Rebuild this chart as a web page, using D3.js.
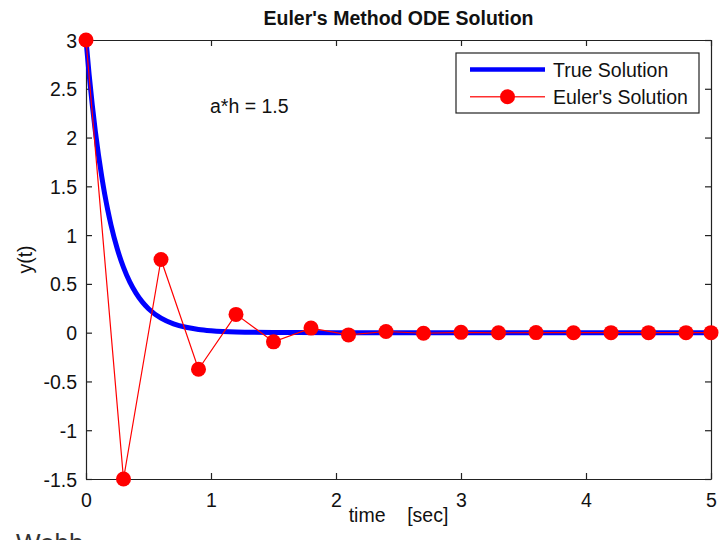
<!DOCTYPE html>
<html>
<head>
<meta charset="utf-8">
<script src="https://cdn.jsdelivr.net/npm/d3@7"></script>
<style>
  html, body { margin: 0; padding: 0; background: #fff; }
  svg { display: block; font-family: Arial, "Liberation Sans", sans-serif; }
</style>
</head>
<body>
<svg id="chart" width="719" height="540"></svg>
<script>
// ---- data ----
const eulerT = [0, 0.3, 0.6, 0.9, 1.2, 1.5, 1.8, 2.1, 2.4, 2.7, 3.0, 3.3, 3.6, 3.9, 4.2, 4.5, 4.8, 5.0];
const eulerY = [3, -1.5, 0.75, -0.375, 0.1875, -0.094, 0.047, -0.023, 0.012, -0.006, 0.003, -0.0015, 0.0007, -0.0004, 0.0002, -0.0001, 0.00005, 0];
const trueT = [0, 0.025, 0.05, 0.075, 0.1, 0.125, 0.15, 0.175, 0.2, 0.25, 0.3, 0.35, 0.4, 0.45, 0.5, 0.6, 0.7, 0.8, 0.9, 1.0, 1.2, 1.5, 2.0, 3.0, 4.0, 5.0];
const trueY = [3, 2.647, 2.336, 2.061, 1.820, 1.606, 1.417, 1.251, 1.104, 0.860, 0.669, 0.521, 0.406, 0.316, 0.246, 0.149, 0.091, 0.055, 0.033, 0.020, 0.007, 0.002, 0.0001, 0, 0, 0];
const xTicks = [0, 1, 2, 3, 4, 5];
const yTicks = [-1.5, -1, -0.5, 0, 0.5, 1, 1.5, 2, 2.5, 3];
const titleText = "Euler's Method ODE Solution";
const xLabel = "time    [sec]";
const yLabel = "y(t)";
const annotation = "a*h = 1.5";
const legendLabels = ["True Solution", "Euler's Solution"];

// ---- layout ----
const svg = d3.select("#chart");
const L = 86, R = 711, T = 40, B = 479;
const x = d3.scaleLinear().domain([0, 5]).range([L, R]);
const y = d3.scaleLinear().domain([-1.5, 3]).range([B, T]);
const FS = 19.5;
const fmt = d => String(d);

// axes (ticks inside, box)
const tickLen = 6;
const axB = svg.append("g").attr("transform", `translate(0,${B})`)
  .call(d3.axisBottom(x).tickValues(xTicks).tickSizeInner(-tickLen).tickSizeOuter(0).tickPadding(14).tickFormat(fmt));
const axT = svg.append("g").attr("transform", `translate(0,${T})`)
  .call(d3.axisTop(x).tickValues(xTicks).tickSizeInner(-tickLen).tickSizeOuter(0).tickFormat(""));
const axL = svg.append("g").attr("transform", `translate(${L},0)`)
  .call(d3.axisLeft(y).tickValues(yTicks).tickSizeInner(-tickLen).tickSizeOuter(0).tickPadding(9).tickFormat(fmt));
const axR = svg.append("g").attr("transform", `translate(${R},0)`)
  .call(d3.axisRight(y).tickValues(yTicks).tickSizeInner(-tickLen).tickSizeOuter(0).tickFormat(""));
[axB, axT, axL, axR].forEach(g => {
  g.selectAll("path.domain").attr("stroke", "#222").attr("stroke-width", 1.2);
  g.selectAll(".tick line").attr("stroke", "#222").attr("stroke-width", 1.2);
  g.selectAll("text").attr("font-size", FS).attr("fill", "#111").attr("font-family", "Arial, 'Liberation Sans', sans-serif");
});
axB.selectAll(".tick text").attr("dy", "0.71em");
axL.selectAll(".tick text").attr("dy", "0.36em");

// true solution
const line = d3.line().x((d) => x(d[0])).y((d) => y(d[1])).curve(d3.curveMonotoneX);
svg.append("path")
  .datum(trueT.map((t, i) => [t, trueY[i]]))
  .attr("d", line)
  .attr("fill", "none")
  .attr("stroke", "#0000ff")
  .attr("stroke-width", 5)
  .attr("stroke-linejoin", "round");

// Euler solution
const eulerData = eulerT.map((t, i) => [t, eulerY[i]]);
svg.append("path")
  .datum(eulerData)
  .attr("d", d3.line().x(d => x(d[0])).y(d => y(d[1])))
  .attr("fill", "none")
  .attr("stroke", "#ff0000")
  .attr("stroke-width", 1.2);
svg.append("g").selectAll("circle")
  .data(eulerData)
  .join("circle")
  .attr("cx", d => x(d[0]))
  .attr("cy", d => y(d[1]))
  .attr("r", 7.5)
  .attr("fill", "#ff0000");

// title & labels
svg.append("text").attr("x", (L + R) / 2).attr("y", 25).attr("text-anchor", "middle")
  .attr("font-size", FS).attr("font-weight", "bold").attr("fill", "#111").text(titleText);
svg.append("text").attr("x", (L + R) / 2).attr("y", 522).attr("text-anchor", "middle")
  .attr("font-size", FS).attr("fill", "#111").style("white-space", "pre").text(xLabel);
svg.append("text").attr("transform", `translate(32,${(T + B) / 2}) rotate(-90)`).attr("text-anchor", "middle")
  .attr("font-size", FS).attr("fill", "#111").text(yLabel);
svg.append("text").attr("x", 210).attr("y", 113)
  .attr("font-size", FS).attr("fill", "#111").text(annotation);

// legend
const lg = svg.append("g");
lg.append("rect").attr("x", 456).attr("y", 53).attr("width", 243).attr("height", 60)
  .attr("fill", "#fff").attr("stroke", "#222").attr("stroke-width", 1.2);
lg.append("line").attr("x1", 470).attr("x2", 545).attr("y1", 69.5).attr("y2", 69.5)
  .attr("stroke", "#0000ff").attr("stroke-width", 4.5);
lg.append("line").attr("x1", 470).attr("x2", 545).attr("y1", 96.7).attr("y2", 96.7)
  .attr("stroke", "#ff3030").attr("stroke-width", 1.5);
lg.append("circle").attr("cx", 507.5).attr("cy", 96.7).attr("r", 7.5).attr("fill", "#ff0000");
lg.selectAll("text.lab").data(legendLabels).join("text").attr("class", "lab")
  .attr("x", 553).attr("y", (d, i) => i === 0 ? 77 : 104)
  .attr("font-size", FS).attr("fill", "#111").text(d => d);

// partial footer text at bottom-left (cut off by the page edge, as in the reference)
svg.append("text").attr("x", 16).attr("y", 552).attr("font-size", 26).attr("fill", "#333").text("Webb");
</script>
</body>
</html>
